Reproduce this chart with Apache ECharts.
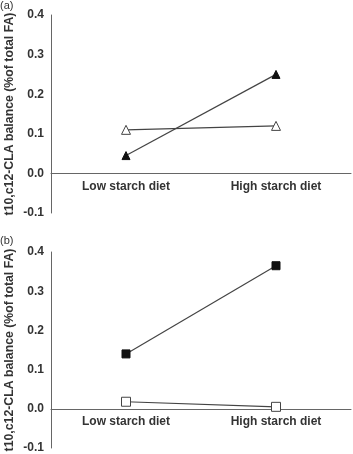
<!DOCTYPE html>
<html>
<head>
<meta charset="utf-8">
<script src="https://cdn.jsdelivr.net/npm/echarts@6/dist/echarts.min.js"></script>
<style>
  html, body { margin: 0; padding: 0; background: #fff; }
  #chart { width: 353px; height: 454px; }
</style>
</head>
<body>
<div id="chart"></div>
<script>
// categories and values
const diets = ['Low starch diet', 'High starch diet'];
const yTicks = [-0.1, 0.0, 0.1, 0.2, 0.3, 0.4];
// panel (a)
const aFilled = [0.045, 0.25];
const aOpen = [0.11, 0.12];
// panel (b)
const bFilled = [0.14, 0.365];
const bOpen = [0.018, 0.005];

const yName = 't10,c12-CLA balance (%of total FA)';
const textCol = '#333';
const lineCol = '#444';

const chart = echarts.init(document.getElementById('chart'));

// x axis sits on the zero line: lifted up by the -0.1..0 band of the grid
const makeX = (idx, gridH) => ({
  type: 'category',
  gridIndex: idx,
  data: diets,
  boundaryGap: true,
  offset: -gridH / 5,
  axisLine: { onZero: false, lineStyle: { color: '#666', width: 1 } },
  axisTick: { show: false },
  axisLabel: { color: textCol, fontWeight: 'bold', fontSize: 12, fontFamily: 'Liberation Sans', margin: 7 },
});

const makeY = (idx) => ({
  type: 'value',
  gridIndex: idx,
  min: yTicks[0],
  max: yTicks[yTicks.length - 1],
  interval: 0.1,
  name: yName,
  nameLocation: 'middle',
  nameGap: 35,
  nameMoveOverlap: false,
  nameTextStyle: { color: textCol, fontWeight: 'bold', fontSize: 12.3, fontFamily: 'Liberation Sans' },
  axisLine: { show: true, lineStyle: { color: '#666', width: 1 } },
  axisTick: { show: false },
  splitLine: { show: false },
  axisLabel: {
    color: textCol, fontWeight: 'bold', fontSize: 12, fontFamily: 'Liberation Sans', margin: 7,
    formatter: (v) => v.toFixed(1),
  },
});

const makeSeries = (idx, data, symbol, filled) => ({
  type: 'line',
  xAxisIndex: idx,
  yAxisIndex: idx,
  data: data,
  symbol: symbol,
  symbolSize: filled ? 8 : 9,
  showAllSymbol: true,
  lineStyle: { color: lineCol, width: 1.2 },
  itemStyle: filled
    ? { color: '#111', borderColor: '#111', borderWidth: 1 }
    : { color: '#fff', borderColor: '#444', borderWidth: 1 },
  animation: false,
});

const option = {
  animation: false,
  title: [
    { text: '(a)', left: 0, top: 0, textStyle: { fontSize: 11, fontWeight: 'normal', color: textCol, fontFamily: 'Liberation Sans' }, padding: 0 },
    { text: '(b)', left: 0, top: 235, textStyle: { fontSize: 11, fontWeight: 'normal', color: textCol, fontFamily: 'Liberation Sans' }, padding: 0 },
  ],
  grid: [
    { left: 51, right: 2, top: 15, bottom: 241, containLabel: false, outerBoundsMode: 'none' },
    { left: 51, right: 2, top: 252, bottom: 6, containLabel: false, outerBoundsMode: 'none' },
  ],
  xAxis: [makeX(0, 454 - 15 - 241), makeX(1, 454 - 252 - 6)],
  yAxis: [makeY(0), makeY(1)],
  series: [
    makeSeries(0, aOpen, 'triangle', false),
    makeSeries(0, aFilled, 'triangle', true),
    makeSeries(1, bOpen, 'rect', false),
    makeSeries(1, bFilled, 'rect', true),
  ],
};

chart.setOption(option);
</script>
</body>
</html>
